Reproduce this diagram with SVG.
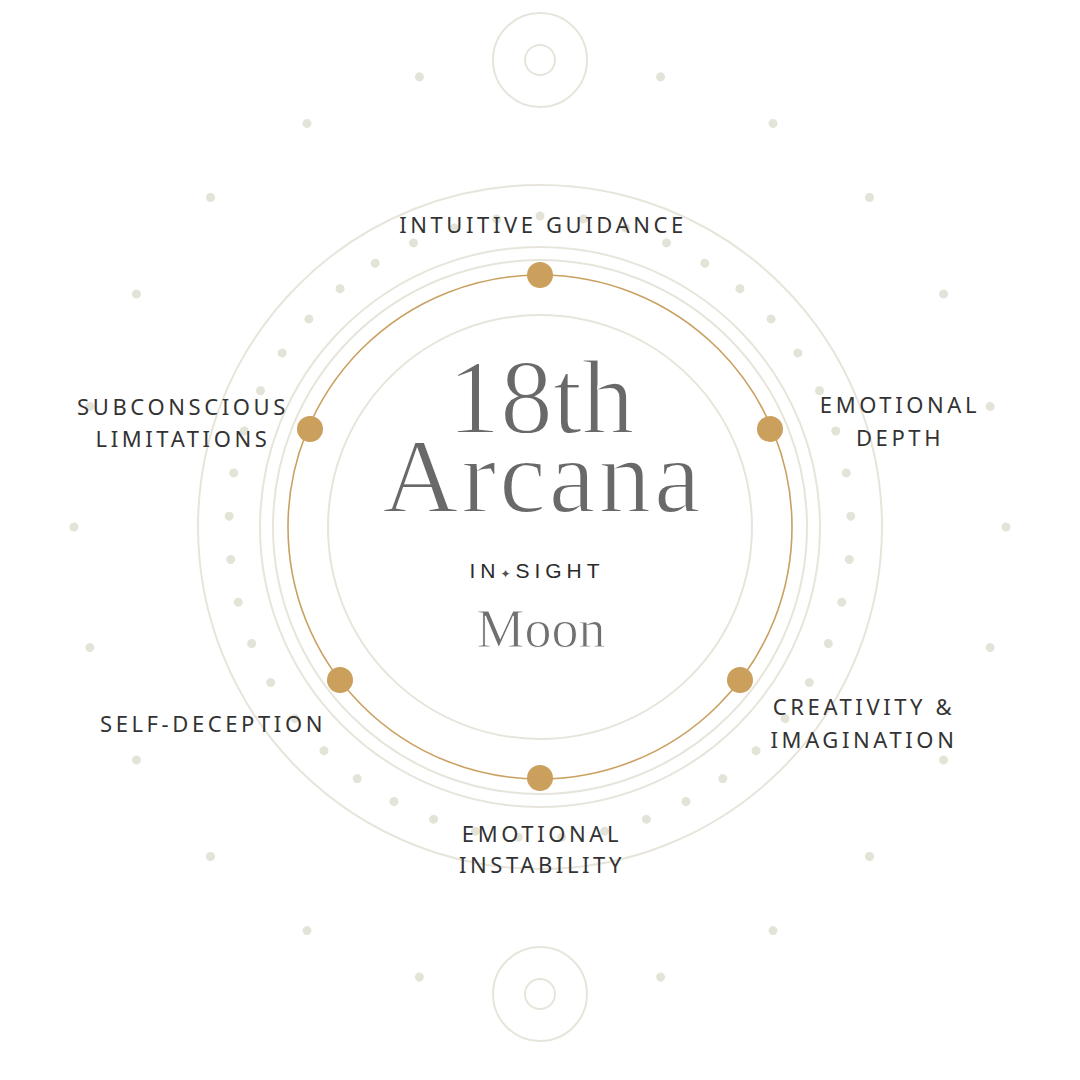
<svg xmlns="http://www.w3.org/2000/svg" xmlns:xlink="http://www.w3.org/1999/xlink" width="1080" height="1080" viewBox="0 0 1080 1080">
<style>
.ring{fill:none;stroke:#e7e5db;stroke-width:2}
.gold{fill:none;stroke:#c9a060;stroke-width:1.6}
.dot{fill:#e4e3d8}
.gdot{fill:#cb9f5c}
.lbl{font-family:"Noto Sans","Liberation Sans",sans-serif;font-size:22px;fill:#333;letter-spacing:3.6px;text-anchor:middle}
.title{font-family:"Liberation Serif","DejaVu Serif",serif;fill:#696969;text-anchor:middle;stroke:#fff;stroke-width:1.8px}
</style>
<defs>
<circle id="d1" cx="540" cy="216" r="4.5" class="dot"/>
<circle id="d2" cx="540" cy="61" r="4.5" class="dot"/>
</defs>
<rect width="1080" height="1080" fill="#ffffff"/>
<g id="rings">
<circle class="ring" cx="540" cy="527" r="342"/>
<circle class="ring" cx="540" cy="527" r="280"/>
<circle class="ring" cx="540" cy="527" r="267"/>
<circle class="ring" cx="540" cy="527" r="212"/>
<circle class="gold" cx="540" cy="527" r="252"/>
<circle class="ring" cx="540" cy="60" r="47"/>
<circle class="ring" cx="540" cy="60" r="15"/>
<circle class="ring" cx="540" cy="994" r="47"/>
<circle class="ring" cx="540" cy="994" r="15"/>
</g>
<g id="inner-dots">
<use xlink:href="#d1" transform="rotate(0 540 527)"/><use xlink:href="#d1" transform="rotate(8 540 527)"/><use xlink:href="#d1" transform="rotate(16 540 527)"/><use xlink:href="#d1" transform="rotate(24 540 527)"/><use xlink:href="#d1" transform="rotate(32 540 527)"/><use xlink:href="#d1" transform="rotate(40 540 527)"/><use xlink:href="#d1" transform="rotate(48 540 527)"/><use xlink:href="#d1" transform="rotate(56 540 527)"/><use xlink:href="#d1" transform="rotate(64 540 527)"/><use xlink:href="#d1" transform="rotate(72 540 527)"/><use xlink:href="#d1" transform="rotate(80 540 527)"/><use xlink:href="#d1" transform="rotate(88 540 527)"/><use xlink:href="#d1" transform="rotate(96 540 527)"/><use xlink:href="#d1" transform="rotate(104 540 527)"/><use xlink:href="#d1" transform="rotate(112 540 527)"/><use xlink:href="#d1" transform="rotate(120 540 527)"/><use xlink:href="#d1" transform="rotate(128 540 527)"/><use xlink:href="#d1" transform="rotate(136 540 527)"/><use xlink:href="#d1" transform="rotate(144 540 527)"/><use xlink:href="#d1" transform="rotate(152 540 527)"/><use xlink:href="#d1" transform="rotate(160 540 527)"/><use xlink:href="#d1" transform="rotate(168 540 527)"/><use xlink:href="#d1" transform="rotate(176 540 527)"/><use xlink:href="#d1" transform="rotate(184 540 527)"/><use xlink:href="#d1" transform="rotate(192 540 527)"/><use xlink:href="#d1" transform="rotate(200 540 527)"/><use xlink:href="#d1" transform="rotate(208 540 527)"/><use xlink:href="#d1" transform="rotate(216 540 527)"/><use xlink:href="#d1" transform="rotate(224 540 527)"/><use xlink:href="#d1" transform="rotate(232 540 527)"/><use xlink:href="#d1" transform="rotate(240 540 527)"/><use xlink:href="#d1" transform="rotate(248 540 527)"/><use xlink:href="#d1" transform="rotate(256 540 527)"/><use xlink:href="#d1" transform="rotate(264 540 527)"/><use xlink:href="#d1" transform="rotate(272 540 527)"/><use xlink:href="#d1" transform="rotate(280 540 527)"/><use xlink:href="#d1" transform="rotate(288 540 527)"/><use xlink:href="#d1" transform="rotate(296 540 527)"/><use xlink:href="#d1" transform="rotate(304 540 527)"/><use xlink:href="#d1" transform="rotate(312 540 527)"/><use xlink:href="#d1" transform="rotate(320 540 527)"/><use xlink:href="#d1" transform="rotate(328 540 527)"/><use xlink:href="#d1" transform="rotate(336 540 527)"/><use xlink:href="#d1" transform="rotate(344 540 527)"/><use xlink:href="#d1" transform="rotate(352 540 527)"/>
</g>
<g id="outer-dots">
<use xlink:href="#d2" transform="rotate(15 540 527)"/><use xlink:href="#d2" transform="rotate(30 540 527)"/><use xlink:href="#d2" transform="rotate(45 540 527)"/><use xlink:href="#d2" transform="rotate(60 540 527)"/><use xlink:href="#d2" transform="rotate(75 540 527)"/><use xlink:href="#d2" transform="rotate(90 540 527)"/><use xlink:href="#d2" transform="rotate(105 540 527)"/><use xlink:href="#d2" transform="rotate(120 540 527)"/><use xlink:href="#d2" transform="rotate(135 540 527)"/><use xlink:href="#d2" transform="rotate(150 540 527)"/><use xlink:href="#d2" transform="rotate(165 540 527)"/><use xlink:href="#d2" transform="rotate(195 540 527)"/><use xlink:href="#d2" transform="rotate(210 540 527)"/><use xlink:href="#d2" transform="rotate(225 540 527)"/><use xlink:href="#d2" transform="rotate(240 540 527)"/><use xlink:href="#d2" transform="rotate(255 540 527)"/><use xlink:href="#d2" transform="rotate(270 540 527)"/><use xlink:href="#d2" transform="rotate(285 540 527)"/><use xlink:href="#d2" transform="rotate(300 540 527)"/><use xlink:href="#d2" transform="rotate(315 540 527)"/><use xlink:href="#d2" transform="rotate(330 540 527)"/><use xlink:href="#d2" transform="rotate(345 540 527)"/>
</g>
<g id="node-intuitive-guidance">
<circle class="gdot" cx="540" cy="275" r="13"/>
<text class="lbl" x="543" y="233">INTUITIVE GUIDANCE</text>
</g>
<g id="node-emotional-depth">
<circle class="gdot" cx="770" cy="429" r="13"/>
<text class="lbl" x="900" y="413">EMOTIONAL</text>
<text class="lbl" x="900" y="446">DEPTH</text>
</g>
<g id="node-creativity">
<circle class="gdot" cx="740" cy="680" r="13"/>
<text class="lbl" x="864" y="715">CREATIVITY &amp;</text>
<text class="lbl" x="864" y="748">IMAGINATION</text>
</g>
<g id="node-emotional-instability">
<circle class="gdot" cx="540" cy="778" r="13"/>
<text class="lbl" x="542" y="842">EMOTIONAL</text>
<text class="lbl" x="542" y="873">INSTABILITY</text>
</g>
<g id="node-self-deception">
<circle class="gdot" cx="340" cy="680" r="13"/>
<text class="lbl" x="213" y="732">SELF-DECEPTION</text>
</g>
<g id="node-subconscious">
<circle class="gdot" cx="310" cy="429" r="13"/>
<text class="lbl" x="183" y="415">SUBCONSCIOUS</text>
<text class="lbl" x="183" y="447">LIMITATIONS</text>
</g>
<g id="center">
<text class="title" x="541" y="433" font-size="105">18th</text>
<text class="title" x="543" y="512" font-size="105" letter-spacing="3">Arcana</text>
<text x="537" y="578" font-family="'Liberation Sans','DejaVu Sans',sans-serif" font-size="21" fill="#2a2a2a" letter-spacing="5" text-anchor="middle">IN<tspan font-family="'DejaVu Sans',sans-serif" font-size="12" fill="#555">✦</tspan>SIGHT</text>
<text class="title" x="541" y="647" font-size="54" style="fill:#707070;stroke-width:1px">Moon</text>
</g>
</svg>
